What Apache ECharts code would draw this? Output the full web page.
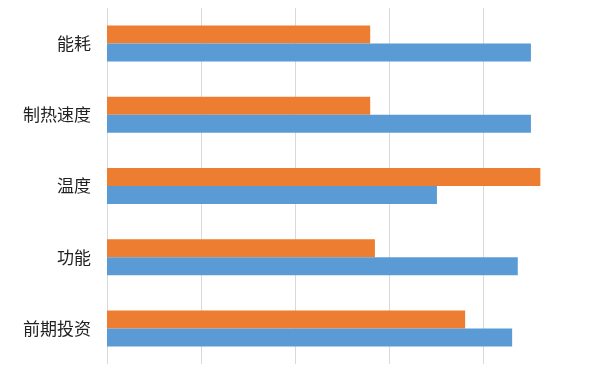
<!DOCTYPE html>
<html>
<head>
<meta charset="utf-8">
<script src="https://cdn.jsdelivr.net/npm/echarts@6/dist/echarts.min.js"></script>
<style>html,body{margin:0;padding:0;background:#fff;}#c{width:606px;height:380px;}</style>
</head>
<body>
<div id="c"></div>
<script>
var categories = ['能耗', '制热速度', '温度', '功能', '前期投资'];
var seriesNames = ['燃气', '热泵采暖'];
var orangeValues = [2.80, 2.80, 4.61, 2.85, 3.81];
var blueValues = [4.51, 4.51, 3.51, 4.37, 4.31];

var chart = echarts.init(document.getElementById('c'), null, {renderer: 'canvas'});
var grid = '#d9d9d9';
chart.setOption({
  animation: false,
  backgroundColor: '#ffffff',
  grid: {left: 107, right: 29, top: 8, bottom: 16, containLabel: false},
  legend: {
    data: seriesNames,
    left: 233, top: 376,
    itemWidth: 14, itemHeight: 14, itemGap: 70,
    icon: 'rect',
    textStyle: {fontFamily: 'Noto Sans CJK SC', fontSize: 13, color: '#595959'}
  },
  xAxis: {
    type: 'value', min: 0, max: 5, interval: 1,
    axisLabel: {show: false}, axisLine: {show: false}, axisTick: {show: false},
    splitLine: {show: true, lineStyle: {color: [grid, grid, grid, grid, grid, 'rgba(0,0,0,0)'], width: 1}}
  },
  yAxis: {
    type: 'category', data: categories, inverse: true,
    axisLine: {show: false}, axisTick: {show: false},
    axisLabel: {fontFamily: 'Noto Sans CJK SC', fontSize: 17, color: '#222222', margin: 16}
  },
  series: [
    {name: seriesNames[0], type: 'bar', data: orangeValues, barWidth: 18, barGap: '0%',
     itemStyle: {color: '#ED7D31'}},
    {name: seriesNames[1], type: 'bar', data: blueValues, barWidth: 18, barGap: '0%',
     itemStyle: {color: '#5B9BD5'}}
  ]
});
</script>
</body>
</html>
